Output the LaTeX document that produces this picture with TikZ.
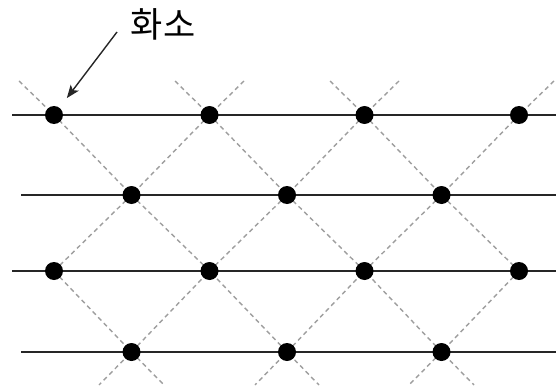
\documentclass[tikz,border=0pt]{standalone}
\usepackage{fontspec}
\newfontfamily\krfont{Noto Sans CJK KR}
\usetikzlibrary{arrows.meta,backgrounds}
\begin{document}
\begin{tikzpicture}[x=1pt,y=-1pt,
  pixel/.style={circle,fill=black,inner sep=0pt,minimum size=18pt},
  rowline/.style={draw=black!85,line width=2pt},
  diag/.style={draw=black!38,line width=1.4pt,dash pattern=on 4.5pt off 3.5pt},
  pointer/.style={draw=black!85,line width=1.4pt,-{Stealth[length=13pt,width=10pt,inset=3pt]},shorten >=12pt},
  lbl/.style={font=\krfont\fontsize{35}{40}\selectfont,inner sep=0pt}]
\useasboundingbox (0,0) rectangle (556,385);
% pixels
\node[pixel] (a1) at (54,115) {};
\node[pixel] (a2) at (209.5,115) {};
\node[pixel] (a3) at (364.5,115) {};
\node[pixel] (a4) at (519,115) {};
\node[pixel] (b1) at (131.5,195) {};
\node[pixel] (b2) at (287,195) {};
\node[pixel] (b3) at (441.5,195) {};
\node[pixel] (c1) at (54,271) {};
\node[pixel] (c2) at (209.5,271) {};
\node[pixel] (c3) at (364.5,271) {};
\node[pixel] (c4) at (519,271) {};
\node[pixel] (d1) at (131.5,352) {};
\node[pixel] (d2) at (287,352) {};
\node[pixel] (d3) at (441.5,352) {};
% label
\node[lbl] (label) at (163,24) {화소};
\coordinate (tail) at (117,32);
\draw[pointer] (tail) -- (a1);
% free ends
\coordinate (h1l) at (12,115);  \coordinate (h1r) at (556,115);
\coordinate (h2l) at (21,195);  \coordinate (h2r) at (556,195);
\coordinate (h3l) at (12,271);  \coordinate (h3r) at (556,271);
\coordinate (h4l) at (21,352);  \coordinate (h4r) at (556,352);
\coordinate (t1) at (19,81);   \coordinate (t2) at (175,81);
\coordinate (t3) at (330,81);  \coordinate (t4) at (244,81);
\coordinate (t5) at (399,81);  \coordinate (t6) at (554,81);
\coordinate (e1) at (319,385); \coordinate (e2) at (474,385);
\coordinate (e0) at (164,385); \coordinate (e5) at (99,385);
\coordinate (e6) at (255,385); \coordinate (e7) at (409,385);
\begin{scope}[on background layer]
\draw[rowline] (h1l) -- (h1r);
\draw[rowline] (h2l) -- (h2r);
\draw[rowline] (h3l) -- (h3r);
\draw[rowline] (h4l) -- (h4r);
\draw[diag] (t1) -- (a1.center) -- (b1.center) -- (c2.center) -- (d2.center) -- (e1);
\draw[diag] (t2) -- (a2.center) -- (b2.center) -- (c3.center) -- (d3.center) -- (e2);
\draw[diag] (t3) -- (a3.center) -- (b3.center) -- (c4.center);
\draw[diag] (c1.center) -- (d1.center) -- (e0);
\draw[diag] (t4) -- (a2.center) -- (b1.center) -- (c1.center);
\draw[diag] (t5) -- (a3.center) -- (b2.center) -- (c2.center) -- (d1.center) -- (e5);
\draw[diag] (t6) -- (a4.center) -- (b3.center) -- (c3.center) -- (d2.center) -- (e6);
\draw[diag] (c4.center) -- (d3.center) -- (e7);
\end{scope}
\end{tikzpicture}
\end{document}
